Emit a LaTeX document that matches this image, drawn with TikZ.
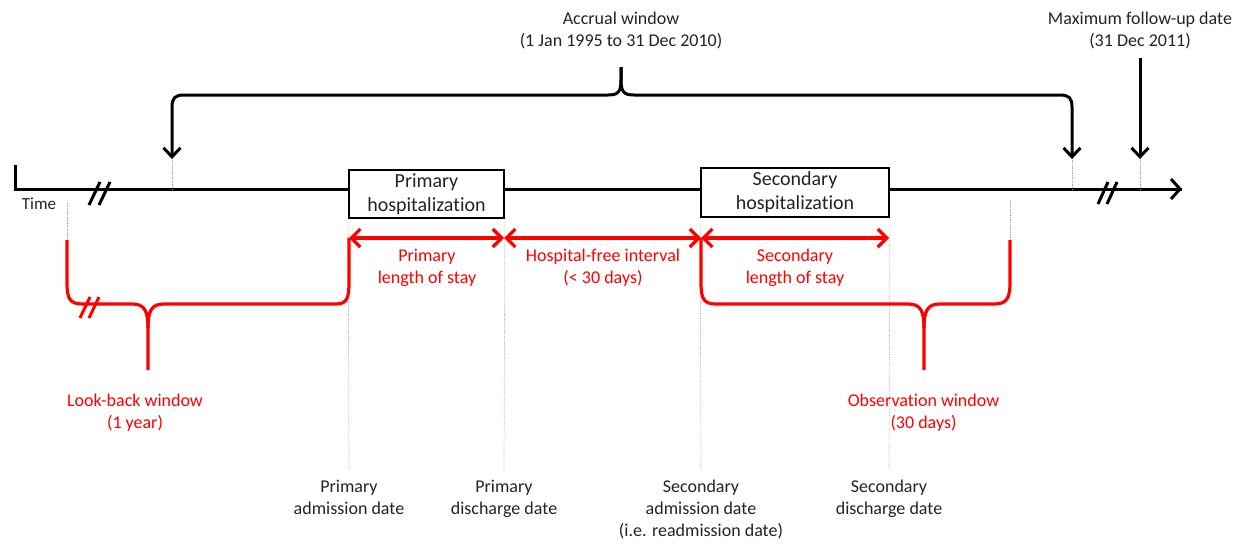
\documentclass[tikz,border=0pt]{standalone}
\usepackage{fontspec}
\setmainfont{Carlito}[Ligatures={NoCommon}]
\usetikzlibrary{arrows.meta}
\definecolor{myred}{RGB}{255,0,0}
\definecolor{txt}{RGB}{35,35,35}
\tikzset{
  lbl/.style={align=center, font=\fontsize{18}{22}\selectfont, text=txt, inner sep=0pt},
  rlbl/.style={lbl, text=myred},
  hbox/.style={draw=black, line width=1.8pt, fill=white, align=center, inner sep=0pt,
     font=\fontsize{20}{24}\selectfont, text=txt},
  tline/.style={line width=3pt, black},
  rline/.style={line width=3.2pt, myred},
  guide/.style={black!35, densely dotted, line width=0.7pt},
  barb/.style={-{Straight Barb[length=9pt,width=17pt]}},
  dbarb/.style={{Straight Barb[length=9pt,width=18pt]}-{Straight Barb[length=9pt,width=18pt]}},
  brk/.style={line width=3pt, line cap=butt},
}
\begin{document}
\begin{tikzpicture}[x=1pt,y=-1pt]
\useasboundingbox (0,0) rectangle (1245,544);

% ---------- timeline ----------
\coordinate (t0) at (15,165);
\coordinate (t1) at (15,189);
\coordinate (tend) at (1182,189);
\draw[tline, line join=miter] (t0) -- (t1) -- (tend);
\draw[tline, -{Straight Barb[length=9pt,width=20pt]}] (1150,189) -- (tend);
\node[lbl, font=\fontsize{17}{20}\selectfont] (time) at (39,204) {Time};

% break marks on timeline
\draw[brk] (89,205) -- (100,182);
\draw[brk] (99,205) -- (110,182);
\draw[brk] (1098,204) -- (1108,182);
\draw[brk] (1107,204) -- (1117,182);

% ---------- hospitalization boxes ----------
\node[hbox, minimum width=155pt, minimum height=48pt] (prim) at (426.5,194) {Primary\\hospitalization};
\node[hbox, minimum width=188pt, minimum height=49pt] (sec) at (795,192.5) {Secondary\\hospitalization};

% ---------- guide lines ----------
\coordinate (pa) at (349,238);
\coordinate (pd) at (504,238);
\coordinate (sa) at (701,238);
\coordinate (sd) at (889,238);
\coordinate (lb) at (67,240);
\coordinate (ob) at (1010,240);
\draw[guide] (67,203) -- (lb);
\draw[guide] (1010,200) -- (ob);
\draw[guide] (prim.south west) -- (349,470);
\draw[guide] (prim.south east) -- (504,470);
\draw[guide] (sec.south west) -- (701,470);
\draw[guide] (sec.south east) -- (889,470);
\draw[guide] (172,158) -- (172,189);
\draw[guide] (1072,158) -- (1072,189);
\draw[guide] (1140,158) -- (1140,189);

% ---------- top brace (accrual window) ----------
\coordinate (acc) at (621,67);
\coordinate (accL) at (172,159);
\coordinate (accR) at (1072,159);
\draw[tline, barb] (acc) -- (621,80) .. controls (621,92) and (618,95) .. (608,95)
   -- (184,95) .. controls (175,95) and (172,98) .. (172,107) -- (accL);
\draw[tline, barb] (acc) -- (621,80) .. controls (621,92) and (624,95) .. (634,95)
   -- (1060,95) .. controls (1069,95) and (1072,98) .. (1072,107) -- (accR);
\node[lbl] (acctxt) at (621,30) {Accrual window\\(1 Jan 1995 to 31 Dec 2010)};

% max follow-up
\coordinate (mf0) at (1140,58);
\coordinate (mf1) at (1140,159);
\draw[tline, barb] (mf0) -- (mf1);
\node[lbl] (mftxt) at (1140,30) {Maximum follow-up date\\(31 Dec 2011)};

% ---------- red double arrows ----------
\draw[rline, dbarb] (pa) -- (pd);
\draw[rline, dbarb] (pd) -- (sa);
\draw[rline, dbarb] (sa) -- (sd);
\node[rlbl] (plos) at (427,268) {Primary\\length of stay};
\node[rlbl] (hfi) at (603,268) {Hospital-free interval\\(< 30 days)};
\node[rlbl] (slos) at (795,268) {Secondary\\length of stay};

% ---------- look-back brace ----------
\coordinate (lbtip) at (148,370);
\draw[rline, line join=round] (lb) -- (67,282) .. controls (67,300) and (70,304) .. (84,304)
   -- (132,304) .. controls (144,304) and (148,310) .. (148,328) -- (lbtip);
\draw[rline, line join=round] (148,328) .. controls (148,310) and (152,304) .. (164,304)
   -- (336,304) .. controls (347,304) and (349,298) .. (349,282) -- (pa);
\draw[brk, myred] (80,318) -- (90,297);
\draw[brk, myred] (89,318) -- (99,297);
\node[rlbl] (lbtxt) at (135,413) {Look-back window\\(1 year)};

% ---------- observation brace ----------
\coordinate (obtip) at (924,370);
\draw[rline, line join=round] (sa) -- (701,282) .. controls (701,298) and (703,304) .. (716,304)
   -- (908,304) .. controls (920,304) and (924,310) .. (924,328) -- (obtip);
\draw[rline, line join=round] (924,328) .. controls (924,310) and (928,304) .. (940,304)
   -- (994,304) .. controls (1007,304) and (1010,298) .. (1010,282) -- (ob);
\node[rlbl] (obtxt) at (923.5,413) {Observation window\\(30 days)};

% ---------- bottom labels ----------
\node[lbl, anchor=north] (padate) at (349,480) {Primary\\admission date};
\node[lbl, anchor=north] (pddate) at (504,480) {Primary\\discharge date};
\node[lbl, anchor=north] (sadate) at (701,480) {Secondary\\admission date\\(i.e. readmission date)};
\node[lbl, anchor=north] (sddate) at (889,480) {Secondary\\discharge date};
\end{tikzpicture}
\end{document}
